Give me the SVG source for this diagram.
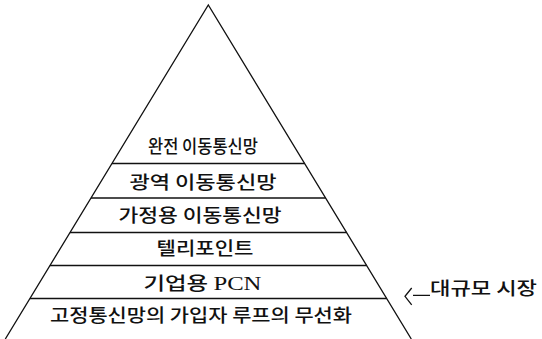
<svg xmlns="http://www.w3.org/2000/svg" width="542" height="339" viewBox="0 0 542 339">
<style>
.edge{fill:none;stroke:#111;stroke-width:1.3}
.tier{fill:none;stroke:#111;stroke-width:1.4}
.lbl{font-family:"Noto Sans CJK KR","Noto Sans CJK SC",sans-serif;font-size:18px;font-weight:500;fill:#111;text-anchor:middle}
.lat{font-family:"Liberation Serif",serif;font-size:19px;font-weight:400}
.side{font-family:"Noto Sans CJK KR","Noto Sans CJK SC",sans-serif;font-size:18px;font-weight:500;fill:#111}
</style>
<rect width="542" height="339" fill="#fff"/>
<g id="pyramid">
<polyline class="edge" points="5.3,339 208.3,5 411.3,339"/>
</g>
<g id="tier1">
<text class="lbl" x="203" y="152.5" textLength="110" lengthAdjust="spacingAndGlyphs">완전 이동통신망</text>
<line class="tier" x1="111.9" y1="163.5" x2="304.7" y2="163.5"/>
</g>
<g id="tier2">
<text class="lbl" x="203" y="188.5" textLength="147" lengthAdjust="spacingAndGlyphs">광역 이동통신망</text>
<line class="tier" x1="91" y1="198" x2="325.6" y2="198"/>
</g>
<g id="tier3">
<text class="lbl" x="200" y="222" textLength="163" lengthAdjust="spacingAndGlyphs">가정용 이동통신망</text>
<line class="tier" x1="70" y1="232.5" x2="346.6" y2="232.5"/>
</g>
<g id="tier4">
<text class="lbl" x="205" y="255" textLength="97" lengthAdjust="spacingAndGlyphs">텔리포인트</text>
<line class="tier" x1="49.9" y1="265.5" x2="366.7" y2="265.5"/>
</g>
<g id="tier5">
<text class="lbl" x="202.5" y="290" textLength="118" lengthAdjust="spacingAndGlyphs">기업용 <tspan class="lat">PCN</tspan></text>
<line class="tier" x1="29.9" y1="298.5" x2="386.7" y2="298.5"/>
</g>
<g id="tier6">
<text class="lbl" x="201" y="322" textLength="302" lengthAdjust="spacingAndGlyphs">고정통신망의 가입자 루프의 무선화</text>
</g>
<g id="connectors">
<path class="edge" d="M411.7,288 L405,296.3 L411.7,304.8 M413,295.3 L430,295.3"/>
</g>
<g id="market">
<text class="side" x="430" y="294.5" textLength="107" lengthAdjust="spacingAndGlyphs">대규모 시장</text>
</g>
</svg>
